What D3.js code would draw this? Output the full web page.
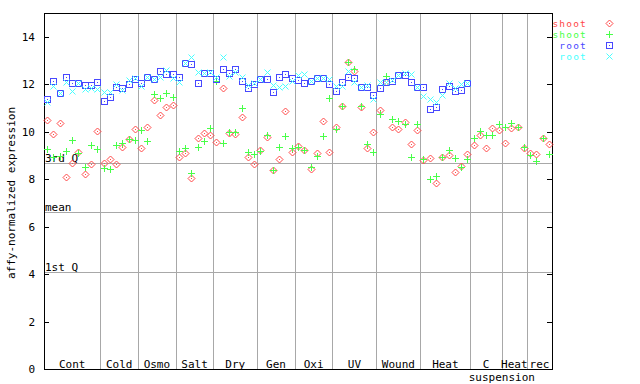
<!DOCTYPE html>
<html>
<head>
<meta charset="utf-8">
<script src="https://cdn.jsdelivr.net/npm/d3@7"></script>
<style>
  body { margin: 0; background: #fff; }
  text { font-family: "DejaVu Sans Mono", monospace; font-size: 11px; }
  text.leg { font-size: 9.5px; letter-spacing: 1.2px; }
</style>
</head>
<body>
<svg width="640" height="384"></svg>
<script>
// sample groups along the x axis
var groups = ["Cont", "Cold", "Osmo", "Salt", "Dry", "Gen", "Oxi", "UV", "Wound", "Heat", "C suspension", "Heat", "rec"]
var groupSizes = [9, 6, 6, 6, 7, 6, 6, 7, 7, 8, 5, 4, 4]

var seriesNames = ["shoot", "shoot", "root", "root"]
var seriesColors = ["#ff4848", "#48ff48", "#4848ff", "#48ffff"]

// shoot (diamond)
var shootA = [10.48, 9.89, 10.35, 8.08, 8.70, 9.14, 8.22, 8.64, 10.01,
  8.69, 8.84, 8.64, 9.34, 9.68, 10.11,
  9.30, 10.19, 11.34, 10.70, 11.03, 11.12,
  8.92, 9.12, 8.04, 9.73, 9.93, 9.88,
  9.55, 11.83, 9.93, 9.89, 10.61, 8.95, 8.63,
  9.23, 9.78, 8.39, 8.85, 10.87, 9.13,
  9.41, 9.23, 8.43, 9.09, 10.43, 9.16,
  10.19, 11.09, 12.93, 12.56, 11.04, 9.30, 9.98,
  10.90, 12.08, 10.19, 10.10, 10.40, 9.48, 10.06,
  8.82, 8.88, 7.83, 8.92, 9.02, 8.30, 8.55, 9.06,
  9.44, 9.88, 9.30, 10.14, 10.08,
  9.52, 10.16, 10.20, 9.30,
  9.10, 9.06, 9.73, 9.48]
// shoot (plus)
var shootB = [9.27, 8.95, 8.97, 9.20, 9.64, 9.11, 8.51, 9.44, 9.27,
  8.46, 8.42, 9.44, 9.52, 9.69, 9.63,
  10.07, 9.60, 11.57, 11.40, 11.62, 11.45,
  9.20, 9.30, 8.25, 9.35, 9.60, 10.15,
  12.15, 9.51, 10.00, 9.98, 10.99, 9.13, 9.05,
  9.19, 9.86, 8.39, 9.34, 9.82, 9.30,
  9.36, 9.23, 8.51, 8.99, 9.82, 11.41,
  10.12, 11.09, 12.93, 12.65, 11.09, 9.50, 9.13,
  10.73, 12.33, 10.52, 10.47, 10.33, 8.92, 10.31,
  8.85, 8.01, 8.14, 8.92, 9.23, 8.88, 8.53, 8.84,
  9.72, 10.02, 9.86, 9.86, 10.34,
  10.21, 10.37, 10.18, 9.37,
  9.02, 8.78, 9.75, 9.05]
// root (square)
var rootA = [11.37, 12.15, 11.64, 12.29, 12.04, 12.07, 11.96, 11.98, 12.08,
  11.31, 11.48, 11.87, 11.84, 12.00, 12.24,
  12.04, 12.29, 12.20, 12.56, 12.42, 12.43,
  12.29, 12.88, 12.84, 12.04, 12.49, 12.46,
  12.22, 12.63, 12.47, 12.63, 12.15, 11.83, 12.01,
  12.22, 12.22, 11.66, 12.29, 12.42, 12.25,
  12.18, 12.04, 12.15, 12.28, 12.25, 12.00,
  11.72, 12.08, 12.29, 12.25, 11.88, 11.88, 11.55,
  11.83, 12.11, 12.14, 12.39, 12.39, 12.08, 11.88,
  11.87, 10.96, 11.04, 11.80, 11.92, 11.72, 11.75, 12.07]
// root (cross)
var rootB = [11.24, 11.93, 11.64, 12.11, 11.72, 12.07, 11.79, 11.83, 11.79,
  11.67, 11.66, 12.01, 11.77, 12.18, 12.27,
  11.91, 12.29, 12.23, 12.30, 12.61, 12.28,
  12.08, 12.88, 13.14, 12.51, 12.49, 12.53,
  12.30, 13.14, 12.36, 12.52, 12.30, 11.97, 12.03,
  12.22, 12.50, 11.97, 11.89, 11.92, 12.14,
  12.39, 12.42, 12.15, 12.28, 12.25, 12.22,
  11.93, 11.94, 12.56, 12.11, 11.88, 11.96, 11.38,
  12.08, 12.11, 12.18, 12.39, 12.49, 12.43, 11.88,
  11.50, 11.37, 11.26, 11.54, 12.03, 11.83, 12.01, 12.07]

var quantiles = [{name: "3rd Q", v: 8.68}, {name: "mean", v: 6.61}, {name: "1st Q", v: 4.08}]
var yTicks = [0, 2, 4, 6, 8, 10, 12, 14]

var svg = d3.select("svg")
var nSamples = d3.sum(groupSizes)
var x = d3.scaleLinear().domain([0, nSamples]).range([44, 552])
var y = d3.scaleLinear().domain([0, 15]).range([369, 13])

var px = v => Math.round(v) + 0.5

// group separators
var bounds = []
var acc = 0
groupSizes.forEach((n, i) => { bounds.push({start: acc, end: acc + n, name: groups[i]}); acc += n })

svg.append("g").selectAll("line").data(bounds.slice(0, -1)).enter().append("line")
  .attr("x1", d => px(x(d.end))).attr("x2", d => px(x(d.end)))
  .attr("y1", y(15)).attr("y2", y(0))
  .attr("stroke", "#a8a8a8").attr("shape-rendering", "crispEdges")

// quantile lines
var q = svg.append("g")
q.selectAll("line").data(quantiles).enter().append("line")
  .attr("x1", x(0)).attr("x2", x(nSamples))
  .attr("y1", d => px(y(d.v))).attr("y2", d => px(y(d.v)))
  .attr("stroke", "#a8a8a8").attr("shape-rendering", "crispEdges")
q.selectAll("text").data(quantiles).enter().append("text")
  .attr("x", x(0) + 1).attr("y", d => y(d.v) - 1)
  .text(d => d.name)

// frame
svg.append("rect").attr("x", 44.5).attr("y", 13.5).attr("width", 508).attr("height", 356)
  .attr("fill", "none").attr("stroke", "#000").attr("shape-rendering", "crispEdges")

// y axis ticks left + right
var ax = svg.append("g")
ax.selectAll("line.l").data(yTicks).enter().append("line")
  .attr("x1", 44).attr("x2", 49).attr("y1", d => px(y(d))).attr("y2", d => px(y(d)))
  .attr("stroke", "#000").attr("shape-rendering", "crispEdges")
ax.selectAll("line.r").data(yTicks).enter().append("line")
  .attr("x1", 547).attr("x2", 552).attr("y1", d => px(y(d))).attr("y2", d => px(y(d)))
  .attr("stroke", "#000").attr("shape-rendering", "crispEdges")
ax.selectAll("text").data(yTicks).enter().append("text")
  .attr("x", 35).attr("y", d => y(d) + 4)
  .attr("text-anchor", "end")
  .text(d => d)

svg.append("text")
  .attr("transform", "translate(15,193) rotate(-90)")
  .attr("text-anchor", "middle")
  .text("affy-normalized expression")

// group labels
bounds.forEach(b => {
  var parts = b.name.split(" ")
  var cx = (x(b.start) + x(b.end)) / 2
  svg.append("text").attr("x", cx).attr("y", 368).attr("text-anchor", "middle").text(parts[0])
  if (parts[1]) {
    svg.append("text").attr("x", x(b.end)).attr("y", 381).attr("text-anchor", "middle").text(parts[1])
  }
})

// marker shapes
function marker(g, k, color) {
  if (k == 0) {
    g.append("path").attr("d", "M0,-3.5L3.5,0L0,3.5L-3.5,0Z").attr("fill", "none").attr("stroke", color)
    g.append("rect").attr("x", -0.5).attr("y", -0.5).attr("width", 1).attr("height", 1).attr("fill", color)
  } else if (k == 1) {
    g.append("path").attr("d", "M-3.5,0H3.5M0,-3.5V3.5").attr("stroke", color).attr("shape-rendering", "crispEdges")
  } else if (k == 2) {
    g.append("rect").attr("x", -3).attr("y", -3).attr("width", 6).attr("height", 6)
      .attr("fill", "none").attr("stroke", color).attr("shape-rendering", "crispEdges")
    g.append("rect").attr("x", -0.5).attr("y", -0.5).attr("width", 1).attr("height", 1).attr("fill", color)
  } else {
    g.append("path").attr("d", "M-3,-3L3,3M-3,3L3,-3").attr("stroke", color)
  }
}

var allSeries = [shootA, shootB, rootA, rootB]
allSeries.forEach((vals, k) => {
  var g = svg.append("g")
  g.selectAll("g").data(vals.map((v, i) => ({i: i, v: v}))).enter().append("g")
    .attr("transform", d => "translate(" + px(x(d.i + 0.5)) + "," + px(y(d.v)) + ")")
    .each(function() { marker(d3.select(this), k, seriesColors[k]) })
})

// legend
seriesNames.forEach((name, k) => {
  var ly = 23 + k * 11.1
  svg.append("text").attr("class", "leg").attr("x", 587).attr("y", ly + 3.5).attr("text-anchor", "end")
    .attr("fill", seriesColors[k]).text(name)
  marker(svg.append("g").attr("transform", "translate(609.5," + px(ly) + ")"), k, seriesColors[k])
})
</script>
</body>
</html>
